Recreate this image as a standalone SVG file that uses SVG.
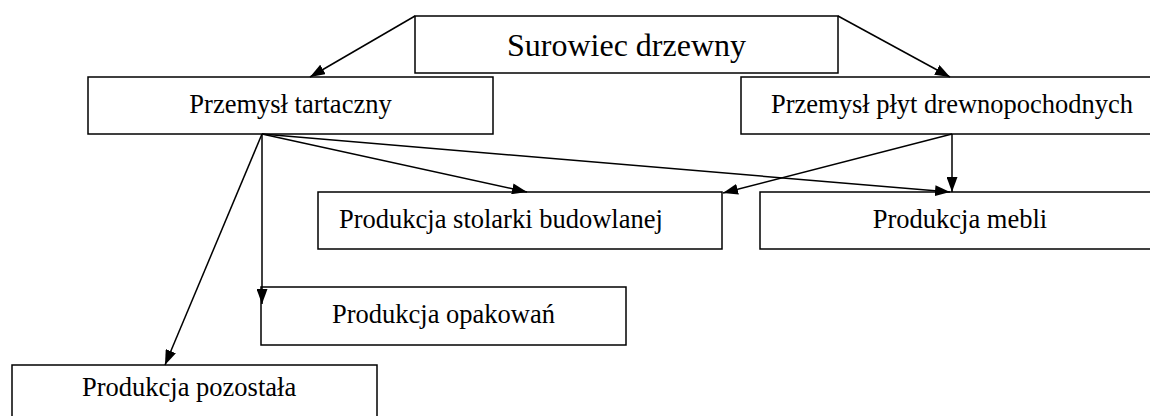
<svg xmlns="http://www.w3.org/2000/svg" width="1150" height="416" viewBox="0 0 1150 416">
<style>
.box{fill:#fff;stroke:#000;stroke-width:1.5}
.t{font-family:"Liberation Serif","Times New Roman",serif;font-size:26.5px;fill:#000}
.c{stroke:#000;stroke-width:1.5;fill:none;marker-end:url(#ah)}
</style>
<defs>
<marker id="ah" viewBox="0 0 15 11" refX="15" refY="5.5" markerWidth="15" markerHeight="11" markerUnits="userSpaceOnUse" orient="auto">
<path d="M0,0 L15,5.5 L0,11 Z" fill="#000"/>
</marker>
</defs>
<rect width="1150" height="416" fill="#fff"/>
<g id="n-surowiec"><rect class="box" x="415" y="16" width="423" height="57"/><text class="t" x="626.5" y="56" text-anchor="middle" style="font-size:32px">Surowiec drzewny</text></g>
<g id="n-tartaczny"><rect class="box" x="88" y="77" width="405" height="57"/><text class="t" x="290.5" y="113" text-anchor="middle">Przemysł tartaczny</text></g>
<g id="n-plyt"><rect class="box" x="741" y="77" width="422" height="57"/><text class="t" x="771" y="113">Przemysł płyt drewnopochodnych</text></g>
<g id="n-stolarki"><rect class="box" x="318" y="192" width="404" height="57"/><text class="t" x="339" y="228">Produkcja stolarki budowlanej</text></g>
<g id="n-mebli"><rect class="box" x="760" y="192" width="400" height="57"/><text class="t" x="960" y="228" text-anchor="middle">Produkcja mebli</text></g>
<g id="n-opakowan"><rect class="box" x="261" y="287" width="365" height="58"/><text class="t" x="332" y="323">Produkcja opakowań</text></g>
<g id="n-pozostala"><rect class="box" x="12" y="365" width="365" height="60"/><text class="t" x="82" y="396">Produkcja pozostała</text></g>
<g id="connectors">
<line class="c" x1="415" y1="16" x2="310" y2="77"/>
<line class="c" x1="838" y1="16" x2="950" y2="77"/>
<line class="c" x1="262" y1="134" x2="165" y2="365"/>
<line class="c" x1="262" y1="134" x2="262" y2="304"/>
<line class="c" x1="262" y1="134" x2="527" y2="192"/>
<line class="c" x1="262" y1="134" x2="950" y2="192"/>
<line class="c" x1="952" y1="134" x2="952" y2="192"/>
<line class="c" x1="952" y1="134" x2="723" y2="193"/>
</g>
</svg>
